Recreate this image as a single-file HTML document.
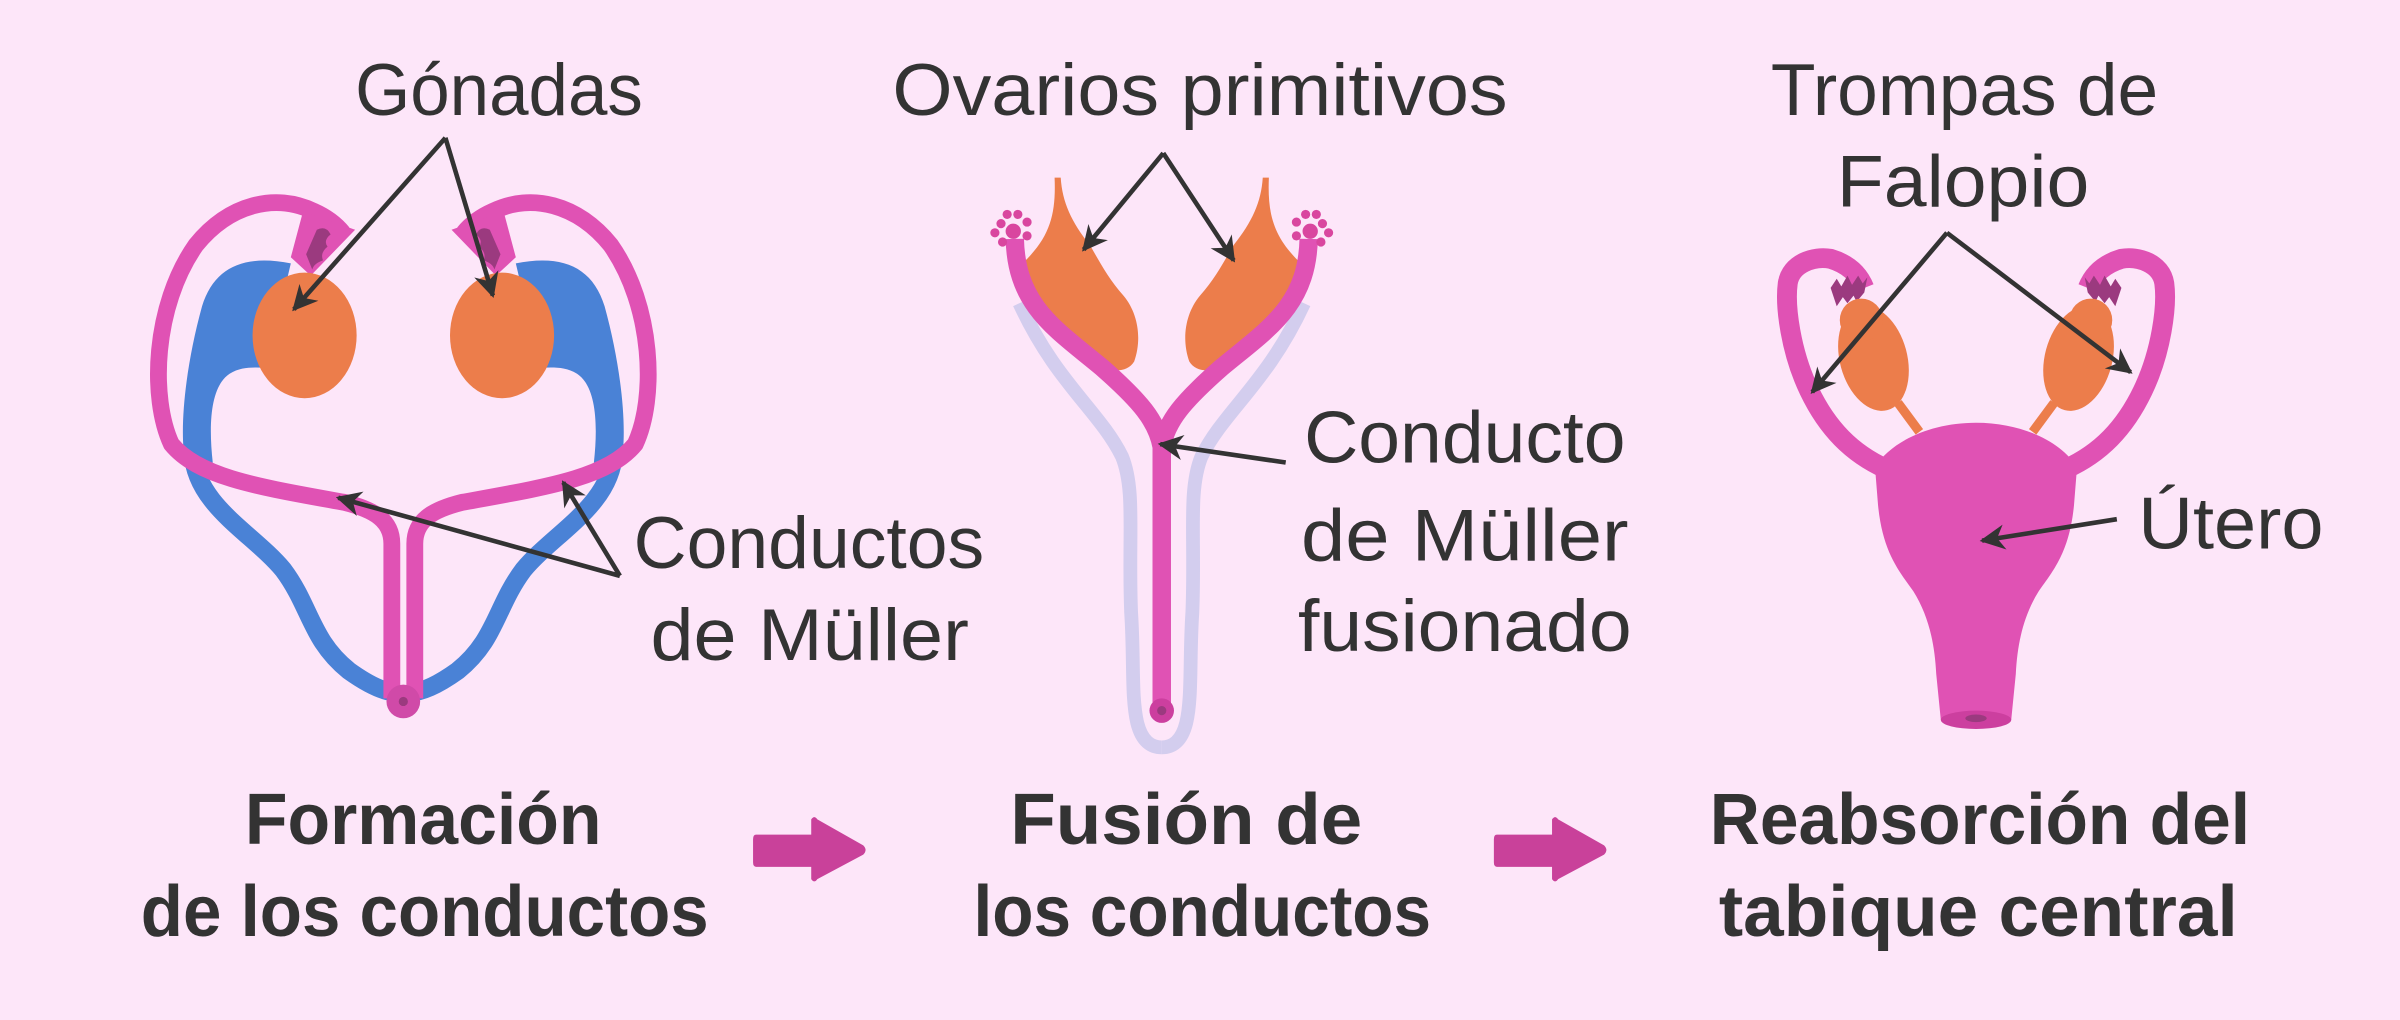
<!DOCTYPE html>
<html><head><meta charset="utf-8"><style>
html,body{margin:0;padding:0;background:#fde6f9;}
svg{display:block;}
text{font-family:"Liberation Sans",sans-serif;fill:#333;}
</style></head><body>
<svg width="2400" height="1020" viewBox="0 0 1568 666" preserveAspectRatio="none" xmlns="http://www.w3.org/2000/svg">
<defs>
<marker id="ah" viewBox="0 0 10 10" refX="9" refY="5" markerWidth="5.5" markerHeight="5.5" orient="auto" markerUnits="strokeWidth">
<path d="M0,0 L10,5 L0,10 L3,5 Z" fill="#333"/>
</marker>
<g id="d1">
<path d="M190,172 C160,166 140,174 132,200 C121,240 117,280 121,302 L139,302 C136,275 138,252 150,244 C158,239 166,240 174,240 Z" fill="#4a82d6"/>
<path d="M126,296 C128,330 165,348 185,372 C203,396 203,418 228,438 C242,448 252,452 259,452" stroke="#4a82d6" stroke-width="12" fill="none"/>
<path d="M256,456 L256,355 C256,340 245,333 225,328 C170,318 130,312 112,290 C98,260 100,200 128,160 C150,133 180,126 205,138 C214,142 220,147 224,152" stroke="#e052b4" stroke-width="11" fill="none"/>
<path d="M198,138 L232,150 L203,180 L190,168 Z" fill="#e052b4"/>
<path d="M207,150 q6,-3 9,3 q-5,4 -2,8 q-5,4 -3,9 q-6,2 -7,6 l-4,-10 Z" fill="#9b3a7f"/>
<ellipse cx="199" cy="219" rx="34" ry="41" fill="#ec7d4b"/>
</g>
<g id="d2">
<path d="M666,198 C690,250 718,268 733,298 C742,320 737,350 739,400 C741,430 739,455 743,472 C746,484 752,488 759,488" stroke="#d3cdee" stroke-width="9" fill="none"/>
<path d="M689,116 C690,140 686,155 668,172 C662,195 680,215 705,232 C718,242 735,246 741,236 C746,222 744,205 734,193 C724,182 718,170 712,160 C700,145 694,132 693,116 Z" fill="#ec7d4b"/>
<path d="M663,156 C664,200 690,215 720,240 C745,262 756,275 759,292 L759,462" stroke="#e052b4" stroke-width="12" fill="none"/>
<g fill="#d9469f"><circle cx="662" cy="151" r="5"/><circle cx="654" cy="146" r="3"/><circle cx="650" cy="152" r="3"/><circle cx="655" cy="158" r="3"/><circle cx="658" cy="140" r="3"/><circle cx="665" cy="140" r="3"/><circle cx="671" cy="145" r="3"/><circle cx="671" cy="154" r="3"/></g>
</g>
<g id="d3">
<path d="M1232,306 C1210,296 1194,280 1182,255 C1170,230 1166,200 1168,185 C1170,172 1185,167 1196,169 C1206,172 1214,178 1218,188" stroke="#e052b4" stroke-width="13" fill="none"/>
<path d="M1196,188 l4,-6 l3,5 l4,-7 l3,6 l4,-6 l3,5 l3,-4 l-2,10 l-5,6 l-2,-4 l-4,5 l-3,-4 l-4,6 Z" fill="#9b3a7f"/>
<path d="M1240,263 L1254,282" stroke="#ec7d4b" stroke-width="6"/>
<ellipse cx="1224" cy="234" rx="22" ry="35" transform="rotate(-15 1224 234)" fill="#ec7d4b"/>
<circle cx="1216" cy="209" r="14" fill="#ec7d4b"/>
</g>
</defs>

<use href="#d1"/>
<use href="#d1" transform="translate(527,0) scale(-1,1)"/>
<circle cx="263.5" cy="458" r="11" fill="#d04aa8"/>
<circle cx="263.5" cy="458" r="3" fill="#9b3a7f"/>

<use href="#d2"/>
<use href="#d2" transform="translate(1518,0) scale(-1,1)"/>
<circle cx="759" cy="464" r="8" fill="#cc3f9f"/>
<circle cx="759" cy="464" r="3" fill="#9b3a7f"/>

<use href="#d3"/>
<use href="#d3" transform="translate(2582,0) scale(-1,1)"/>
<path d="M1225,305 C1235,289 1260,276 1291,276 C1322,276 1347,289 1357,305 L1355,330 C1352,360 1342,372 1332,386 C1322,402 1318,420 1317,440 L1314,470 L1268,470 L1265,440 C1264,420 1260,402 1250,386 C1240,372 1230,360 1227,330 Z" fill="#e052b4"/>
<ellipse cx="1291" cy="470" rx="23" ry="6" fill="#cc3f9f"/>
<ellipse cx="1291" cy="469" rx="7" ry="2.5" fill="#9b3a7f"/>

<g stroke="#333" stroke-width="3" fill="none" marker-end="url(#ah)">
<path d="M291,90 L192,202"/>
<path d="M291,90 L322,193"/>
<path d="M405,376 L221,325"/>
<path d="M405,376 L368,315"/>
<path d="M760,100 L708,163"/>
<path d="M760,100 L806,170"/>
<path d="M840,302 L758,290"/>
<path d="M1272,152 L1184,256"/>
<path d="M1272,152 L1392,243"/>
<path d="M1383,339 L1295,353"/>
</g>

<g font-size="48">
<text x="232" y="75" textLength="188" lengthAdjust="spacingAndGlyphs">Gónadas</text>
<text x="583" y="75" textLength="402" lengthAdjust="spacingAndGlyphs">Ovarios primitivos</text>
<text x="1157" y="75" textLength="253" lengthAdjust="spacingAndGlyphs">Trompas de</text>
<text x="1200" y="135" textLength="165" lengthAdjust="spacingAndGlyphs">Falopio</text>
<text x="414" y="371" textLength="229" lengthAdjust="spacingAndGlyphs">Conductos</text>
<text x="425" y="431" textLength="208" lengthAdjust="spacingAndGlyphs">de Müller</text>
<text x="852" y="302" textLength="210" lengthAdjust="spacingAndGlyphs">Conducto</text>
<text x="850" y="366" textLength="214" lengthAdjust="spacingAndGlyphs">de Müller</text>
<text x="848" y="425" textLength="218" lengthAdjust="spacingAndGlyphs">fusionado</text>
<text x="1397" y="358" textLength="121" lengthAdjust="spacingAndGlyphs">Útero</text>
</g>
<g font-size="47" font-weight="bold">
<text x="160" y="551" textLength="233" lengthAdjust="spacingAndGlyphs">Formación</text>
<text x="92" y="611" textLength="371" lengthAdjust="spacingAndGlyphs">de los conductos</text>
<text x="660" y="551" textLength="230" lengthAdjust="spacingAndGlyphs">Fusión de</text>
<text x="636" y="611" textLength="299" lengthAdjust="spacingAndGlyphs">los conductos</text>
<text x="1117" y="551" textLength="353" lengthAdjust="spacingAndGlyphs">Reabsorción del</text>
<text x="1123" y="611" textLength="339" lengthAdjust="spacingAndGlyphs">tabique central</text>
</g>
<path d="M494,545 L530,545 L530,535 Q532,532 534,535 L564,552 Q567,555 564,558 L534,574 Q532,577 530,574 L530,566 L494,566 Q492,566 492,563 L492,548 Q492,545 494,545 Z" fill="#c9419a"/>
<path d="M978,545 L1014,545 L1014,535 Q1016,532 1018,535 L1048,552 Q1051,555 1048,558 L1018,574 Q1016,577 1014,574 L1014,566 L978,566 Q976,566 976,563 L976,548 Q976,545 978,545 Z" fill="#c9419a"/>
</svg>
</body></html>
